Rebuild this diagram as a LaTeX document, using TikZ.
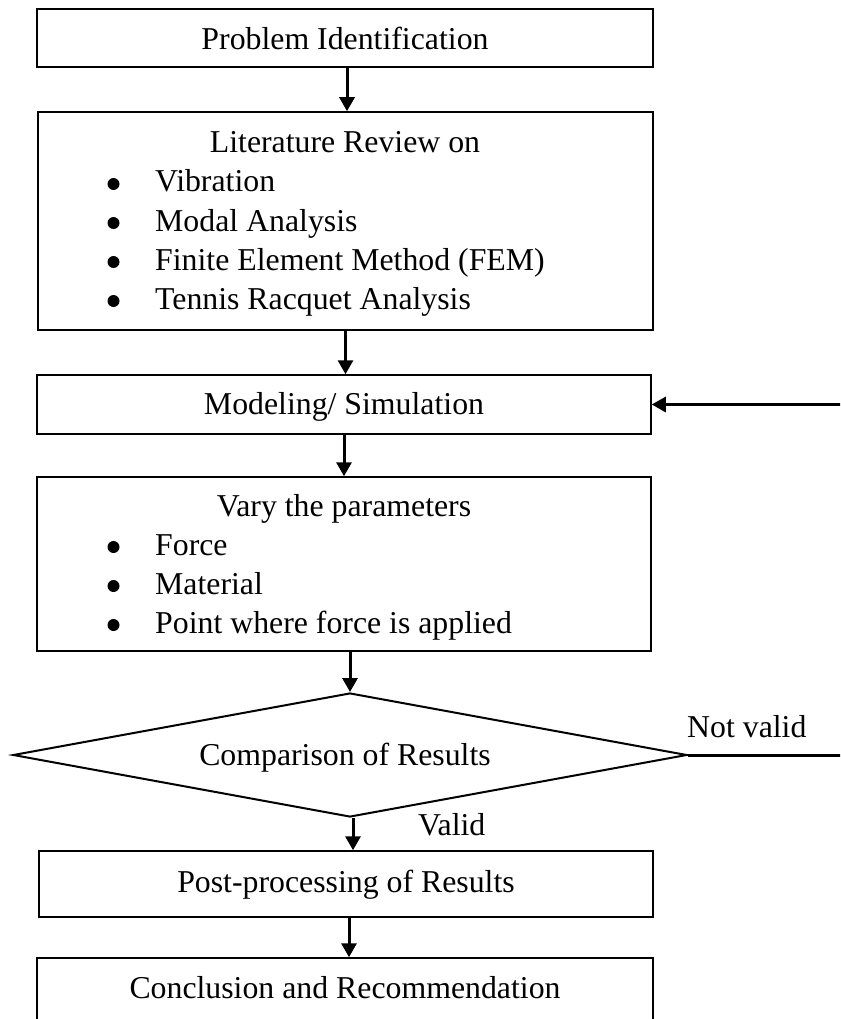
\documentclass[tikz,border=0pt]{standalone}
\usepackage{fontspec}
\setmainfont{Liberation Serif}
\usetikzlibrary{arrows.meta,shapes.geometric}
\tikzset{
  boxnode/.style={draw=black,line width=1.5pt,rectangle,inner sep=0pt},
  txt/.style={inner sep=0pt,anchor=base,font=\fontsize{31.8pt}{39pt}\selectfont},
  txtw/.style={inner sep=0pt,anchor=base west,font=\fontsize{31.8pt}{39pt}\selectfont},
  bul/.style={circle,fill=black,inner sep=0pt,minimum size=12pt},
  flow/.style={line width=3pt,-{Triangle[width=15pt,length=14pt]}},
}
\begin{document}
\begin{tikzpicture}[x=1pt,y=-1pt]
\useasboundingbox (0,0) rectangle (840,1019);
\clip (0,0) rectangle (840,1019);
% boxes
\node[boxnode,minimum width=616pt,minimum height=58pt] (b1) at (345,38) {};
\node[boxnode,minimum width=615pt,minimum height=218pt] (b2) at (345.5,221) {};
\node[boxnode,minimum width=614pt,minimum height=59pt] (b3) at (344,404.5) {};
\node[boxnode,minimum width=614pt,minimum height=174pt] (b4) at (344,564) {};
\node[draw=black,line width=2pt,diamond,inner sep=0pt,minimum width=674pt,minimum height=124pt] (dia) at (350,755) {};
\node[boxnode,minimum width=614pt,minimum height=66pt] (b5) at (346,884) {};
\node[boxnode,minimum width=616pt,minimum height=66pt] (b6) at (345,991) {};
% texts
\node[txt] (t1) at (345,50) {Problem Identification};
\node[txt] (t2) at (345,153) {Literature Review on};
\node[bul] (d21) at (113.5,184) {};
\node[txtw] (i21) at (155,192) {Vibration};
\node[bul] (d22) at (113.5,223) {};
\node[txtw] (i22) at (155,231) {Modal Analysis};
\node[bul] (d23) at (113.5,262) {};
\node[txtw] (i23) at (155,270) {Finite Element Method (FEM)};
\node[bul] (d24) at (113.5,301) {};
\node[txtw] (i24) at (155,309) {Tennis Racquet Analysis};
\node[txt] (t3) at (344,414) {Modeling/ Simulation};
\node[txt] (t4) at (344,516) {Vary the parameters};
\node[bul] (d41) at (113.5,547) {};
\node[txtw] (i41) at (155,555) {Force};
\node[bul] (d42) at (113.5,586) {};
\node[txtw] (i42) at (155,594) {Material};
\node[bul] (d43) at (113.5,625) {};
\node[txtw] (i43) at (155,633) {Point where force is applied};
\node[txt] (td) at (345,765) {Comparison of Results};
\node[txtw] (nv) at (687,737) {Not valid};
\node[txtw] (va) at (418,835) {Valid};
\node[txt] (t5) at (346,892) {Post-processing of Results};
\node[txt] (t6) at (345,998) {Conclusion and Recommendation};
% connectors
\coordinate (r1) at (846,755);
\coordinate (r2) at (846,404.5);
\draw[flow] ([xshift=2pt]b1.south) -- ([xshift=2pt]b1.south |- b2.north);
\draw[flow] (b2.south) -- (b2.south |- b3.north);
\draw[flow] (b3.south) -- (b3.south |- b4.north);
\draw[flow] (dia.north |- b4.south) -- (dia.north);
\draw[flow] ([xshift=3pt]dia.south) -- ([xshift=3pt]dia.south |- b5.north);
\draw[flow] ([xshift=3pt]b5.south) -- ([xshift=3pt]b5.south |- b6.north);
\draw[flow] (dia.east) -- (r1) -- (r2) -- (b3.east);
\end{tikzpicture}
\end{document}
